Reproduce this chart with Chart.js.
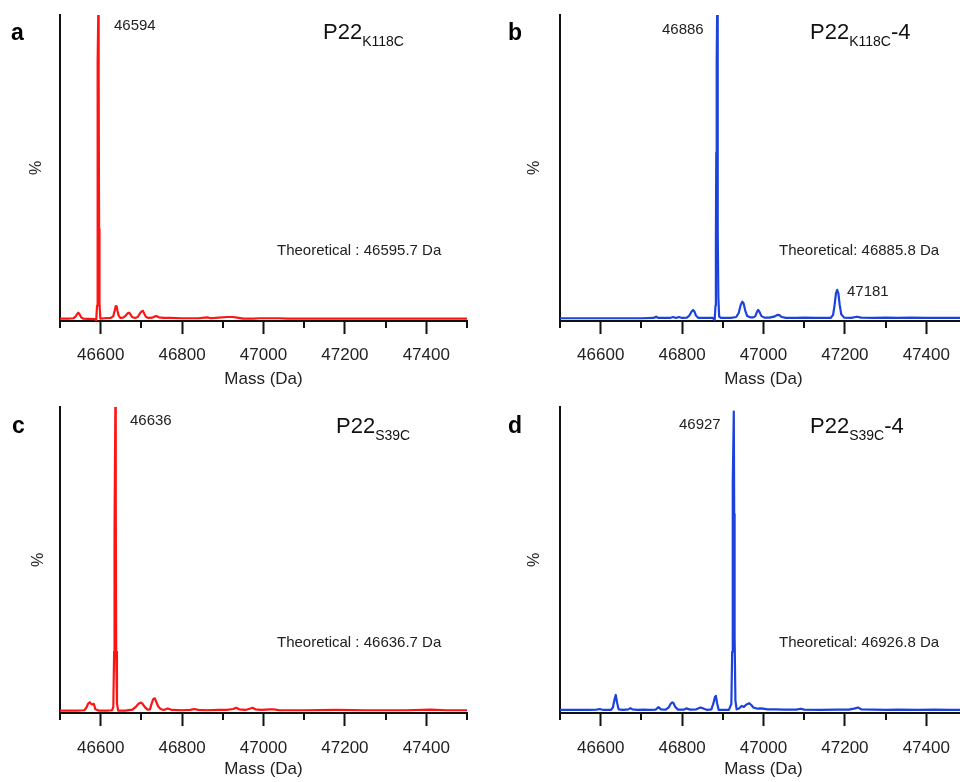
<!DOCTYPE html>
<html>
<head>
<meta charset="utf-8">
<script src="https://cdn.jsdelivr.net/npm/chart.js@4.4.1/dist/chart.umd.min.js"></script>
<style>
  html, body { margin: 0; padding: 0; background: #fff; overflow: hidden; }
  #fig { position: relative; width: 960px; height: 782px; overflow: hidden;
         font-family: 'Liberation Sans', Arial, sans-serif; color: #222; }
  canvas { position: absolute; }
  .t { position: absolute; line-height: 1; white-space: nowrap; }
  .lab { font-size: 15px; }
  .name { font-size: 22px; color: #111; }
  .name sub { font-size: 14px; vertical-align: -7px; line-height: 0; }
  .panel { font-size: 23px; font-weight: bold; color: #000; }
</style>
</head>
<body>
<div id="fig">
  <canvas id="cA" width="480" height="390" style="left:0;top:0"></canvas>
  <canvas id="cB" width="520" height="390" style="left:480px;top:0"></canvas>
  <canvas id="cC" width="480" height="392" style="left:0;top:390px"></canvas>
  <canvas id="cD" width="520" height="392" style="left:480px;top:390px"></canvas>

  <div class="t panel" style="left:11px;top:21px">a</div>
  <div class="t panel" style="left:508px;top:21px">b</div>
  <div class="t panel" style="left:12px;top:414px">c</div>
  <div class="t panel" style="left:508px;top:414px">d</div>

  <div class="t name" style="left:323px;top:21px">P22<sub>K118C</sub></div>
  <div class="t name" style="left:810px;top:21px">P22<sub>K118C</sub>-4</div>
  <div class="t name" style="left:336px;top:415px">P22<sub>S39C</sub></div>
  <div class="t name" style="left:810px;top:415px">P22<sub>S39C</sub>-4</div>

  <div class="t lab" style="left:114px;top:17px">46594</div>
  <div class="t lab" style="left:662px;top:21px">46886</div>
  <div class="t lab" style="left:847px;top:283px">47181</div>
  <div class="t lab" style="left:130px;top:412px">46636</div>
  <div class="t lab" style="left:679px;top:416px">46927</div>

  <div class="t lab" style="left:277px;top:242px">Theoretical : 46595.7 Da</div>
  <div class="t lab" style="left:779px;top:242px">Theoretical: 46885.8 Da</div>
  <div class="t lab" style="left:277px;top:634px">Theoretical : 46636.7 Da</div>
  <div class="t lab" style="left:779px;top:634px">Theoretical: 46926.8 Da</div>
</div>
<script>
// deconvoluted spectra, mass (Da) and relative intensity (%)
const massA = [46500, 46520, 46533, 46538, 46542, 46545, 46548, 46552, 46557, 46570, 46585, 46589, 46591, 46592, 46593, 46594, 46595, 46596, 46597, 46599,
  46610, 46625, 46631, 46634, 46637, 46639, 46641, 46644, 46648, 46655, 46661, 46666, 46670, 46673, 46677, 46684, 46691, 46697, 46701, 46704, 46707, 46711, 46717,
  46727, 46733, 46737, 46743, 46755, 46770, 46800, 46840, 46855, 46862, 46870, 46890, 46910, 46925, 46935, 46950, 46975, 46990, 47010, 47040, 47060, 47100, 47200, 47300, 47400, 47500];
const intA = [0.8, 0.8, 0.9, 1.4, 2.3, 2.7, 2.2, 1.2, 0.8, 0.7, 0.6, 0.3, 5, 40, 85, 100, 80, 30, 6, 0.8,
  0.9, 1.0, 1.6, 3.2, 4.9, 4.8, 3.5, 1.8, 1.0, 1.1, 1.7, 2.5, 2.7, 2.2, 1.3, 1.0, 1.3, 2.6, 3.2, 3.3, 2.4, 1.4, 1.0,
  1.1, 1.5, 1.6, 1.2, 1.0, 1.0, 0.9, 0.9, 1.1, 1.2, 0.9, 1.1, 1.3, 1.3, 1.1, 0.8, 0.8, 0.9, 0.9, 0.9, 0.8, 0.8, 0.8, 0.8, 0.8, 0.8];

const massB = [46500, 46600, 46700, 46730, 46736, 46742, 46770, 46778, 46785, 46792, 46800, 46812, 46818, 46823, 46827, 46830, 46834, 46840, 46860, 46875,
  46880, 46882, 46883, 46884, 46885, 46886, 46887, 46888, 46889, 46891, 46895, 46920, 46933, 46939, 46944, 46948, 46951, 46955, 46960, 46967, 46975,
  46980, 46984, 46987, 46990, 46995, 47002, 47015, 47028, 47034, 47039, 47045, 47055, 47080, 47100, 47130, 47150, 47165, 47171, 47175, 47178, 47181, 47184, 47187, 47191,
  47198, 47215, 47230, 47240, 47270, 47300, 47330, 47360, 47400, 47450, 47500];
const intB = [0.9, 0.9, 0.9, 1.0, 1.4, 1.0, 1.0, 1.3, 1.0, 1.3, 1.0, 1.1, 1.8, 3.0, 3.6, 3.2, 1.8, 1.0, 1.0, 1.0,
  0.4, 5, 25, 55, 85, 100, 75, 30, 8, 1.5, 1.0, 1.0, 1.3, 2.6, 5.2, 6.3, 5.8, 3.5, 1.6, 1.2, 1.2,
  1.6, 3.0, 3.6, 3.0, 1.6, 1.1, 1.1, 1.5, 2.0, 1.9, 1.3, 1.0, 1.0, 1.1, 1.0, 1.0, 1.0, 2.0, 5.5, 9.0, 10.2, 9.0, 5.5, 2.2,
  1.1, 1.0, 1.4, 1.1, 1.0, 1.1, 1.0, 1.1, 1.0, 1.0, 1.0];

const massC = [46500, 46540, 46560, 46565, 46569, 46573, 46577, 46580, 46583, 46587, 46595, 46615, 46628, 46631, 46633, 46634, 46636, 46637, 46638, 46640,
  46643, 46660, 46678, 46686, 46693, 46699, 46703, 46708, 46715, 46721, 46725, 46729, 46733, 46737, 46741, 46747, 46755, 46765, 46775, 46800, 46820, 46830, 46840,
  46860, 46890, 46910, 46925, 46933, 46940, 46955, 46966, 46973, 46980, 46995, 47015, 47025, 47040, 47100, 47180, 47250, 47350, 47410, 47450, 47500];
const intC = [0.8, 0.8, 0.9, 1.8, 3.0, 3.5, 2.9, 2.8, 3.0, 1.2, 0.8, 0.8, 0.9, 2, 20, 60, 100, 70, 20, 3,
  0.8, 0.8, 1.1, 2.0, 3.0, 3.4, 3.0, 2.0, 1.1, 1.2, 3.0, 4.5, 4.8, 3.5, 2.2, 1.3, 1.0, 1.5, 1.0, 0.9, 1.0, 1.3, 1.0,
  0.9, 1.0, 1.0, 1.3, 1.7, 1.2, 1.0, 1.4, 1.7, 1.2, 1.0, 1.2, 1.2, 0.9, 0.9, 1.0, 0.9, 0.9, 1.1, 0.9, 0.9];

const massD = [46500, 46570, 46590, 46598, 46606, 46625, 46630, 46634, 46637, 46640, 46644, 46655, 46668, 46673, 46678, 46690, 46705, 46720,
  46735, 46742, 46748, 46760, 46767, 46772, 46776, 46779, 46783, 46790, 46805, 46810, 46820, 46835, 46845, 46852, 46862, 46872, 46877, 46881, 46883,
  46886, 46890, 46915, 46921, 46923, 46924, 46925, 46927, 46928, 46929, 46931, 46934, 46940, 46946, 46952, 46958, 46965, 46970, 46975,
  46985, 46995, 47010, 47030, 47050, 47080, 47092, 47100, 47140, 47180, 47210, 47225, 47232, 47240, 47270, 47300, 47330, 47380, 47420, 47460, 47500];
const intD = [1.0, 1.0, 1.1, 1.3, 1.0, 1.0, 1.8, 4.5, 5.9, 3.5, 1.2, 1.0, 1.2, 1.6, 1.2, 1.0, 1.1, 1.0,
  1.1, 1.9, 1.2, 1.1, 1.8, 3.0, 3.5, 3.2, 2.0, 1.1, 1.1, 1.5, 1.1, 1.2, 1.8, 1.5, 1.0, 1.2, 3.2, 5.4, 5.6,
  3.2, 1.0, 1.0, 3, 20, 50, 75, 98.5, 65, 25, 4, 1.2, 1.5, 2.3, 2.0, 2.8, 3.2, 2.6, 1.8,
  1.4, 1.5, 1.2, 1.2, 1.1, 1.1, 1.4, 1.1, 1.0, 1.1, 1.1, 1.5, 1.8, 1.2, 1.1, 1.0, 1.1, 1.0, 1.1, 1.0, 1.0];

const massRange = [46500, 47500];
const ink = '#111';
const fontFamily = "'Liberation Sans', Arial, sans-serif";

// short ticks at the odd hundreds, long (labelled) ticks come from the grid
const minorTicks = {
  id: 'minorTicks',
  afterDraw(chart) {
    const x = chart.scales.x, ctx = chart.ctx, y0 = chart.chartArea.bottom;
    ctx.save();
    ctx.strokeStyle = ink;
    ctx.lineWidth = 2;
    x.ticks.forEach(t => {
      if (Math.round(t.value) % 200 !== 0) {
        const px = Math.round(x.getPixelForValue(t.value));
        ctx.beginPath();
        ctx.moveTo(px, y0);
        ctx.lineTo(px, y0 + 7);
        ctx.stroke();
      }
    });
    ctx.restore();
  }
};

function spectrum(id, mass, inten, color, o) {
  new Chart(document.getElementById(id), {
    type: 'line',
    data: {
      datasets: [{
        data: mass.map((m, i) => ({ x: m, y: inten[i] })),
        borderColor: color,
        borderWidth: 2.2,
        borderJoinStyle: 'round',
        pointRadius: 0,
        tension: 0,
        fill: false
      }]
    },
    options: {
      responsive: false,
      animation: false,
      events: [],
      layout: { padding: { left: 0, top: o.top, right: o.right, bottom: 0 } },
      plugins: { legend: { display: false }, tooltip: { enabled: false } },
      scales: {
        x: {
          type: 'linear',
          min: massRange[0],
          max: massRange[1],
          afterFit: s => { s.height = o.xh; },
          border: { display: true, color: ink, width: 2 },
          grid: {
            drawOnChartArea: false,
            drawTicks: true,
            tickLength: 13,
            tickWidth: 2,
            tickColor: c => (Math.round(c.tick.value) % 200 === 0 ? ink : 'rgba(0,0,0,0)')
          },
          ticks: {
            stepSize: 100,
            autoSkip: false,
            maxRotation: 0,
            padding: o.tickPad,
            color: '#222',
            font: { family: fontFamily, size: 17 },
            callback: v => (Math.round(v) % 200 === 0 ? String(Math.round(v)) : '')
          },
          title: {
            display: true,
            text: 'Mass (Da)',
            color: '#222',
            font: { family: fontFamily, size: 17 },
            padding: { top: 0, bottom: o.titlePad }
          }
        },
        y: {
          min: 0,
          max: 100,
          afterFit: s => { s.width = o.yw; },
          border: { display: true, color: ink, width: 2 },
          grid: { display: true, drawOnChartArea: false, drawTicks: false },
          ticks: { display: false },
          title: {
            display: true,
            text: '%',
            color: '#222',
            font: { family: fontFamily, size: 16 },
            padding: { top: o.yTitlePad, bottom: 0 }
          }
        }
      }
    },
    plugins: [minorTicks]
  });
}

spectrum('cA', massA, intA, 'rgb(255, 20, 20)', { top: 15, right: 13, yw: 60, xh: 69, tickPad: 11, titlePad: 0, yTitlePad: 27 });
spectrum('cB', massB, intB, 'rgb(28, 66, 222)', { top: 15, right: 33, yw: 80, xh: 69, tickPad: 11, titlePad: 0, yTitlePad: 45 });
spectrum('cC', massC, intC, 'rgb(255, 20, 20)', { top: 17, right: 13, yw: 60, xh: 69, tickPad: 12, titlePad: 2, yTitlePad: 29 });
spectrum('cD', massD, intD, 'rgb(28, 66, 222)', { top: 17, right: 33, yw: 80, xh: 69, tickPad: 12, titlePad: 2, yTitlePad: 45 });
</script>
</body>
</html>
